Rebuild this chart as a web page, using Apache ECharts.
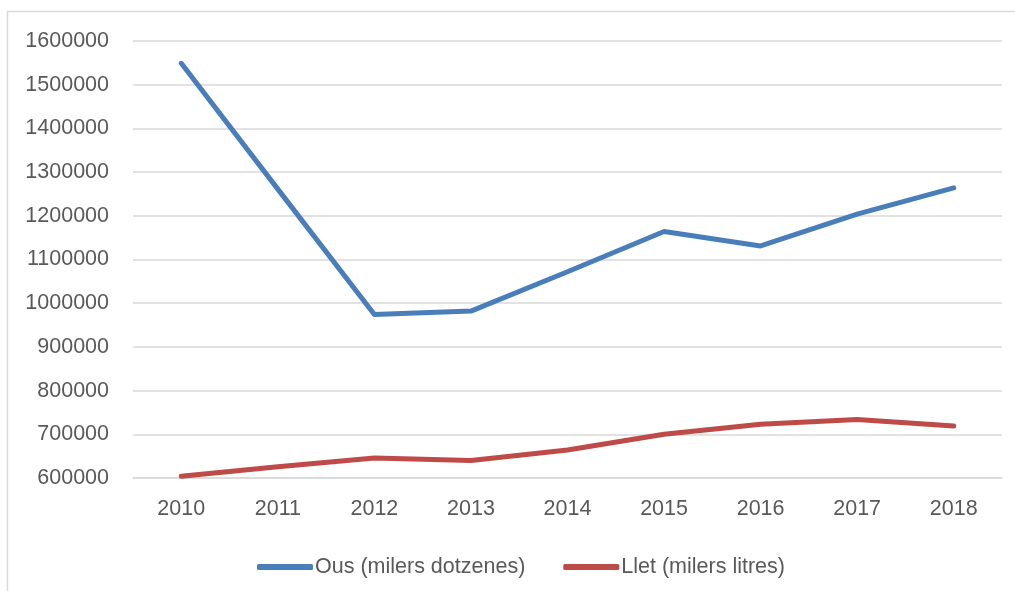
<!DOCTYPE html>
<html>
<head>
<meta charset="utf-8">
<script src="https://cdn.jsdelivr.net/npm/echarts@6/dist/echarts.min.js"></script>
<style>
html,body{margin:0;padding:0;background:#fff;}
#chart{width:1015px;height:591px;}
</style>
</head>
<body>
<div id="chart"></div>
<script>
var years = ['2010','2011','2012','2013','2014','2015','2016','2017','2018'];
var ous = [1549000, 1261000, 974000, 982000, 1072000, 1164000, 1131000, 1204000, 1264000];
var llet = [604000, 626000, 646000, 640000, 664000, 700000, 723000, 734000, 719000];
var seriesNames = ['Ous (milers dotzenes)', 'Llet (milers litres)'];

var font = 'Liberation Sans';
var txt = '#595959';
var fs = 21.5;
var chart = echarts.init(document.getElementById('chart'));
chart.setOption({
  animation: false,
  backgroundColor: '#fff',
  graphic: [{
    type: 'rect', silent: true, z: -1,
    shape: {x: 7.5, y: 11.5, width: 1100, height: 700},
    style: {fill: 'none', stroke: '#d9d9d9', lineWidth: 1.5}
  }],
  grid: {left: 133, right: 13, top: 41, bottom: 113},
  legend: {
    left: 252, top: 551,
    itemWidth: 56, itemHeight: 6, itemGap: 38,
    icon: 'roundRect',
    textStyle: {fontFamily: font, fontSize: fs, color: txt, padding: [0,0,0,-3]},
    data: seriesNames
  },
  xAxis: {
    type: 'category', data: years, boundaryGap: true,
    axisLine: {show: true, lineStyle: {color: '#d9d9d9', width: 1.5}},
    axisTick: {show: false},
    axisLabel: {fontFamily: font, fontSize: fs, color: txt, margin: 20}
  },
  yAxis: {
    type: 'value', min: 600000, max: 1600000, interval: 100000,
    axisLine: {show: false}, axisTick: {show: false},
    splitLine: {lineStyle: {color: '#d9d9d9', width: 1.5}},
    axisLabel: {fontFamily: font, fontSize: fs, color: txt, margin: 24,
      formatter: function (v) { return String(v); }}
  },
  series: [
    {name: seriesNames[0], type: 'line', data: ous, symbol: 'none', smooth: false,
     lineStyle: {color: '#4a7ebb', width: 5, cap: 'round', join: 'round'}, itemStyle: {color: '#4a7ebb'}},
    {name: seriesNames[1], type: 'line', data: llet, symbol: 'none', smooth: false,
     lineStyle: {color: '#be4b48', width: 5, cap: 'round', join: 'round'}, itemStyle: {color: '#be4b48'}}
  ]
});
</script>
</body>
</html>
